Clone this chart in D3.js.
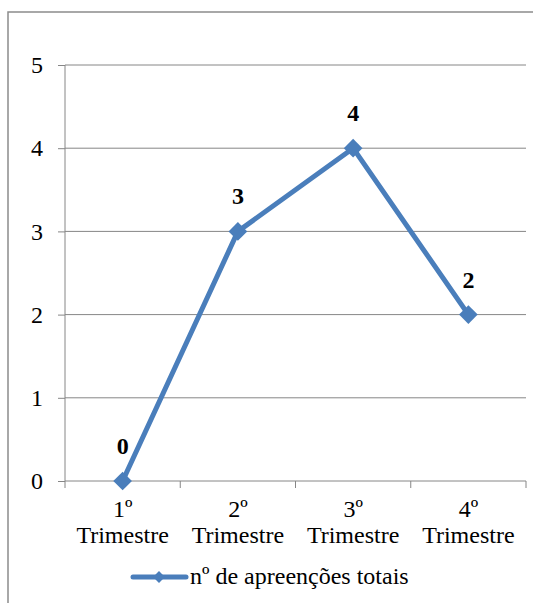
<!DOCTYPE html>
<html><head><meta charset="utf-8">
<script src="https://cdn.jsdelivr.net/npm/d3@7"></script>
<style>body{margin:0;background:#fff}svg{display:block}text{font-family:"Liberation Serif","Times New Roman",serif}</style>
</head><body>
<svg id="c" width="533" height="603"></svg>
<script>
const categories = ["1º|Trimestre", "2º|Trimestre", "3º|Trimestre", "4º|Trimestre"];
const values = [0, 3, 4, 2];
const yTicks = [0, 1, 2, 3, 4, 5];
const seriesName = "nº de apreenções totais";

const svg = d3.select("#c");
const fs = 24;
const blue = "#4A7EBB";
const grid = "#868686";

svg.append("rect").attr("x", 8).attr("y", 12).attr("width", 600).attr("height", 700)
  .attr("fill", "none").attr("stroke", "#8c8c8c").attr("stroke-width", 1.5);

const x = d3.scaleBand().domain(categories).range([65, 526]);
const y = d3.scaleLinear().domain([0, 5]).range([481, 65]);

// gridlines
svg.append("g").selectAll("line").data(yTicks.filter(d => d > 0)).join("line")
  .attr("x1", 65).attr("x2", 526).attr("y1", d => y(d)).attr("y2", d => y(d))
  .attr("stroke", grid).attr("stroke-width", 1);

// y axis
const ya = svg.append("g").attr("transform", "translate(65,0)")
  .call(d3.axisLeft(y).tickValues(yTicks).tickSize(7).tickPadding(15).tickFormat(d3.format("d")));
ya.select(".domain").attr("stroke", grid).attr("d", `M0,${y(5)}V${y(0)}`);
ya.selectAll(".tick line").attr("stroke", grid);
ya.selectAll("text").style("font-family", '"Liberation Serif",serif').style("font-size", fs + "px").attr("fill", "#000");

// x axis
const xa = svg.append("g").attr("transform", `translate(0,${y(0)})`)
  .call(d3.axisBottom(x).tickSize(0).tickFormat(""));
xa.select(".domain").attr("stroke", grid).attr("d", `M65,0H526`);
const bounds = [65, ...categories.map(c => x(c) + x.bandwidth())];
xa.append("g").selectAll("line").data(bounds).join("line")
  .attr("x1", d => d).attr("x2", d => d).attr("y1", 0).attr("y2", 7).attr("stroke", grid);
categories.forEach(c => {
  const parts = c.split("|");
  const t = svg.append("text").style("font-size", fs + "px")
    .attr("text-anchor", "middle").attr("fill", "#000");
  parts.forEach((p, i) => t.append("tspan").attr("x", x(c) + x.bandwidth() / 2)
    .attr("y", 517 + i * 26).text(p));
});

// line
const cx = (d, i) => x(categories[i]) + x.bandwidth() / 2;
svg.append("path").datum(values)
  .attr("d", d3.line().x(cx).y(d => y(d)))
  .attr("fill", "none").attr("stroke", blue).attr("stroke-width", 5).attr("stroke-linejoin", "round");
svg.append("g").selectAll("path").data(values).join("path")
  .attr("d", d3.symbol().type(d3.symbolSquare).size(175))
  .attr("transform", (d, i) => `translate(${cx(d, i)},${y(d)}) rotate(45)`)
  .attr("fill", blue);
svg.append("g").selectAll("text").data(values).join("text")
  .attr("x", cx).attr("y", d => y(d) - 27)
  .attr("text-anchor", "middle").style("font-size", fs + "px")
  .attr("font-weight", "bold").attr("fill", "#000").text(d => d);

// legend
const lg = svg.append("g");
lg.append("line").attr("x1", 133).attr("x2", 186).attr("y1", 577).attr("y2", 577)
  .attr("stroke", blue).attr("stroke-width", 5).attr("stroke-linecap", "round");
lg.append("path").attr("d", d3.symbol().type(d3.symbolSquare).size(70))
  .attr("transform", "translate(159,577) rotate(45)").attr("fill", blue);
lg.append("text").attr("x", 190).attr("y", 584).style("font-size", fs + "px")
  .attr("fill", "#000").text(seriesName);
</script>
</body></html>
